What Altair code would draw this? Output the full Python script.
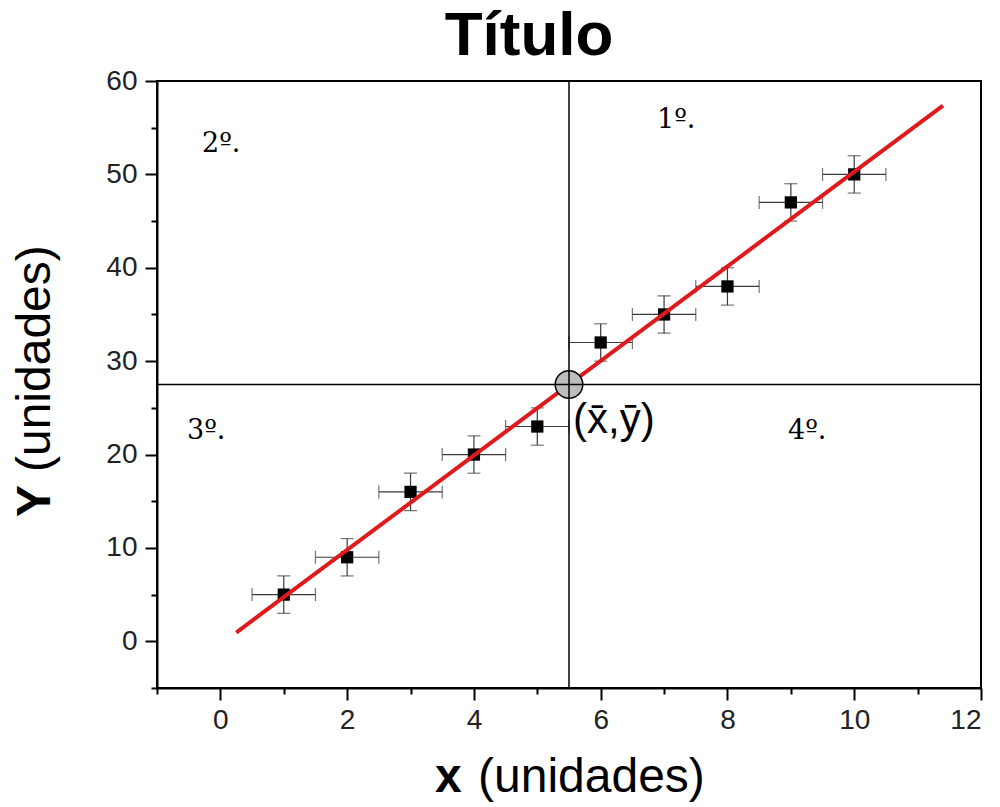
import altair as alt
import pandas as pd

# ---- data ----
xs = [1, 2, 3, 4, 5, 6, 7, 8, 9, 10]
ys = [5, 9, 16, 20, 23, 32, 35, 38, 47, 50]
x_err = [0.5] * 10
y_err = [2] * 10

x_major = [0, 2, 4, 6, 8, 10, 12]
x_minor = [-1, 1, 3, 5, 7, 9, 11]
y_major = [0, 10, 20, 30, 40, 50, 60]
y_minor = [-5, 5, 15, 25, 35, 45, 55]

quad_labels = ["1º.", "2º.", "3º.", "4º."]

df = pd.DataFrame({"x": xs, "y": ys, "ex": x_err, "ey": y_err})
df["xlo"] = df["x"] - df["ex"]
df["xhi"] = df["x"] + df["ex"]
df["ylo"] = df["y"] - df["ey"]
df["yhi"] = df["y"] + df["ey"]

W, H = 824, 607
FONT = "Liberation Sans"
SERIF = "DejaVu Serif"

xs_scale = alt.Scale(domain=[-1, 12], nice=False, zero=False)
ys_scale = alt.Scale(domain=[-5, 60], nice=False, zero=False)

common = dict(title=None, grid=False, domainColor="black", domainWidth=2,
              tickColor="black", tickWidth=2, labelFont=FONT,
              labelFontSize=28, labelColor="#222222")
major_x_axis = alt.Axis(values=x_major, format="d", tickSize=12,
                        labelPadding=6, orient="bottom", **common)
major_y_axis = alt.Axis(values=y_major, format="d", tickSize=12,
                        labelPadding=8, orient="left", **common)
minor_x_axis = alt.Axis(values=x_minor, labels=False, tickSize=6,
                        domain=False, orient="bottom", **common)
minor_y_axis = alt.Axis(values=y_minor, labels=False, tickSize=6,
                        domain=False, orient="left", **common)

base = alt.Chart(df)
X = lambda f, ax=None: alt.X(f, type="quantitative", scale=xs_scale, axis=ax)
Y = lambda f, ax=None: alt.Y(f, type="quantitative", scale=ys_scale, axis=ax)

err_col = "#3a3a3a"

# error bars
xbars = base.mark_rule(color=err_col, strokeWidth=1.2).encode(
    x=X("xlo", major_x_axis), x2="xhi", y=Y("y", major_y_axis))
ybars = base.mark_rule(color=err_col, strokeWidth=1.2).encode(
    x=X("x", minor_x_axis), y=Y("ylo", minor_y_axis), y2="yhi")
xcap_lo = base.mark_tick(color=err_col, thickness=1.2, size=13, orient="vertical").encode(
    x=X("xlo"), y=Y("y"))
xcap_hi = base.mark_tick(color=err_col, thickness=1.2, size=13, orient="vertical").encode(
    x=X("xhi"), y=Y("y"))
ycap_lo = base.mark_tick(color=err_col, thickness=1.2, size=13, orient="horizontal").encode(
    x=X("x"), y=Y("ylo"))
ycap_hi = base.mark_tick(color=err_col, thickness=1.2, size=13, orient="horizontal").encode(
    x=X("x"), y=Y("yhi"))

squares = base.mark_square(color="black", size=150, opacity=1).encode(
    x=X("x"), y=Y("y"))

fit = base.transform_regression("x", "y", extent=[0.25, 11.4]).mark_line(
    color="#e0191c", strokeWidth=4).encode(x=X("x"), y=Y("y"))

means = base.transform_aggregate(mx="mean(x)", my="mean(y)")
centre = means.mark_circle(size=760, fill="#bdbdbd", stroke="black",
                           strokeWidth=1.5, opacity=1).encode(
    x=X("mx"), y=Y("my"))
vline = means.mark_rule(color="black", strokeWidth=1.5).encode(x=X("mx"))
hline = means.mark_rule(color="black", strokeWidth=1.5).encode(y=Y("my"))


def label(text, x, y, size, font=FONT, weight="normal", align="left", angle=0):
    return alt.Chart(pd.DataFrame({"t": [text]})).mark_text(
        font=font, fontSize=size, fontWeight=weight, align=align,
        baseline="alphabetic", angle=angle, color="black").encode(
        x=alt.value(x), y=alt.value(y), text="t:N")


texts = [
    label("Título", 372, -26, 62, weight="bold", align="center"),
    label("x", 278, 711, 48, weight="bold"),
    label("(unidades)", 321, 711, 48),
    label("Y", -107, 436, 48, weight="bold", angle=270),
    label("(unidades)", -107, 391, 48, angle=270),
    label("(x\u0304,y\u0304)", 416, 352, 42),
    label(quad_labels[0], 500, 47, 27, font=SERIF),
    label(quad_labels[1], 45, 71, 27, font=SERIF),
    label(quad_labels[2], 30, 358, 27, font=SERIF),
    label(quad_labels[3], 631, 358, 27, font=SERIF),
]

chart = alt.layer(
    xbars, ybars, xcap_lo, xcap_hi, ycap_lo, ycap_hi,
    squares, fit, centre, vline, hline, *texts
).resolve_axis(x="independent", y="independent").properties(
    width=W, height=H,
    background="white",
    autosize=alt.AutoSizeParams(type="none"),
    padding={"left": 157, "top": 81, "right": 19, "bottom": 119},
).configure_view(
    stroke="black", strokeWidth=2
)

chart.save("out.html", embed_options={"renderer": "svg", "actions": False})
